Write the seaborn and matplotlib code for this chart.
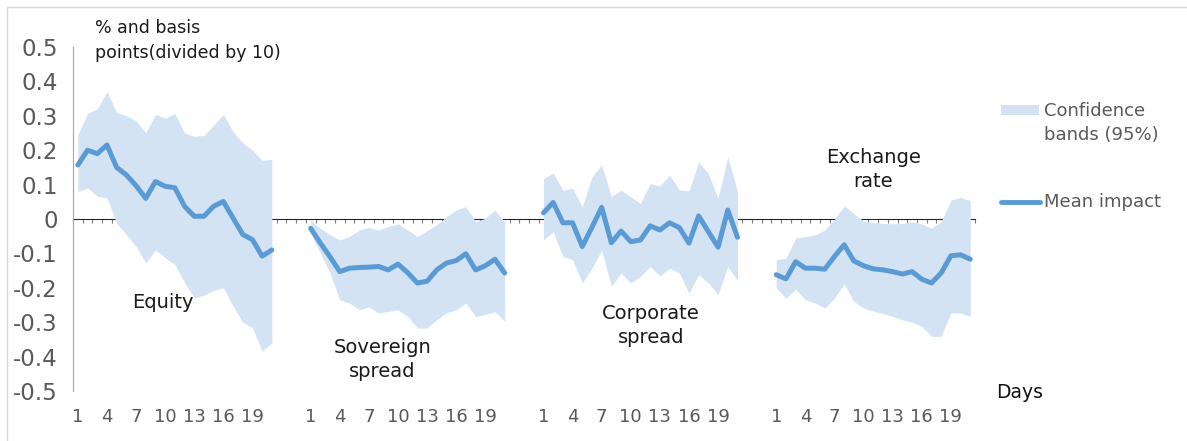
import numpy as np
import pandas as pd
import matplotlib
matplotlib.use('Agg')
import matplotlib.pyplot as plt
import seaborn as sns
from matplotlib.patches import Rectangle
from matplotlib.lines import Line2D

# ---- data ----
days = list(range(1, 22))
groups = ['Equity', 'Sovereign\nspread', 'Corporate\nspread', 'Exchange\nrate']

equity_mean = [0.157, 0.200, 0.190, 0.215, 0.150, 0.128, 0.097, 0.060, 0.109, 0.095, 0.091,
               0.037, 0.008, 0.008, 0.037, 0.051, 0.003, -0.045, -0.060, -0.108, -0.090]
equity_low = [0.080, 0.090, 0.066, 0.061, -0.012, -0.045, -0.080, -0.128, -0.090, -0.113, -0.132,
              -0.185, -0.229, -0.222, -0.208, -0.200, -0.253, -0.300, -0.316, -0.384, -0.360]
equity_high = [0.245, 0.307, 0.320, 0.370, 0.310, 0.300, 0.286, 0.250, 0.304, 0.293, 0.307,
               0.250, 0.240, 0.243, 0.273, 0.304, 0.254, 0.222, 0.200, 0.170, 0.174]

sov_mean = [-0.027, -0.070, -0.110, -0.153, -0.143, -0.141, -0.140, -0.138, -0.148, -0.131, -0.156,
            -0.186, -0.181, -0.148, -0.128, -0.121, -0.101, -0.148, -0.136, -0.117, -0.157]
sov_low = [-0.042, -0.100, -0.157, -0.235, -0.244, -0.264, -0.256, -0.273, -0.269, -0.264, -0.283,
           -0.317, -0.317, -0.293, -0.273, -0.264, -0.244, -0.283, -0.278, -0.269, -0.298]
sov_high = [-0.003, -0.027, -0.046, -0.061, -0.051, -0.032, -0.025, -0.032, -0.022, -0.014, -0.032,
            -0.051, -0.034, -0.017, 0.007, 0.026, 0.036, -0.008, 0.002, 0.026, -0.008]

corp_mean = [0.018, 0.048, -0.011, -0.011, -0.080, -0.024, 0.034, -0.069, -0.035, -0.066, -0.061,
             -0.020, -0.032, -0.011, -0.025, -0.070, 0.009, -0.037, -0.082, 0.026, -0.053]
corp_low = [-0.061, -0.037, -0.109, -0.119, -0.186, -0.143, -0.090, -0.196, -0.157, -0.186, -0.167,
            -0.138, -0.165, -0.143, -0.157, -0.215, -0.162, -0.186, -0.220, -0.138, -0.179]
corp_high = [0.118, 0.134, 0.084, 0.089, 0.036, 0.123, 0.157, 0.065, 0.084, 0.065, 0.045,
             0.103, 0.096, 0.128, 0.084, 0.082, 0.166, 0.132, 0.060, 0.181, 0.079]

fx_mean = [-0.162, -0.174, -0.124, -0.143, -0.143, -0.146, -0.109, -0.075, -0.122, -0.136, -0.145,
           -0.148, -0.153, -0.160, -0.153, -0.175, -0.186, -0.157, -0.107, -0.104, -0.117]
fx_low = [-0.200, -0.230, -0.204, -0.235, -0.244, -0.259, -0.230, -0.188, -0.240, -0.259, -0.268,
          -0.275, -0.283, -0.293, -0.300, -0.312, -0.341, -0.341, -0.273, -0.273, -0.283]
fx_high = [-0.119, -0.114, -0.056, -0.051, -0.046, -0.032, -0.001, 0.038, 0.016, -0.006, -0.010,
           -0.013, -0.014, -0.013, -0.008, -0.014, -0.027, -0.008, 0.055, 0.063, 0.053]

tick_days = [1, 4, 7, 10, 13, 16, 19]
y_ticks = [0.5, 0.4, 0.3, 0.2, 0.1, 0.0, -0.1, -0.2, -0.3, -0.4, -0.5]

means = [equity_mean, sov_mean, corp_mean, fx_mean]
lows = [equity_low, sov_low, corp_low, fx_low]
highs = [equity_high, sov_high, corp_high, fx_high]

# one long table, groups laid side by side on a shared category axis
slots = 24
rows = []
for g, name in enumerate(groups):
    for i, d in enumerate(days):
        rows.append({'group': name, 'x': g * slots + d, 'day': d,
                     'mean': means[g][i], 'low': lows[g][i], 'high': highs[g][i]})
df = pd.DataFrame(rows)

LINE = '#5b9bd5'
BAND = '#d4e3f3'
GREY = '#595959'

sns.set_style('white')
plt.rcParams['font.family'] = ['DejaVu Sans']

fig = plt.figure(figsize=(11.87, 4.41), dpi=100)
ax = fig.add_axes([0.0615, 0.1134, 0.760, 0.780])

for name, sub in df.groupby('group', sort=False):
    ax.fill_between(sub['x'], sub['low'], sub['high'], color=BAND, lw=0, zorder=1)

sns.lineplot(data=df, x='x', y='mean', units='group', estimator=None,
             color=LINE, lw=3.6, ax=ax, zorder=3, legend=False)

ax.set_xlim(0.5, len(groups) * slots - 2.5)
ax.set_ylim(-0.5, 0.5)

# x tick labels under every group
xt, xl = [], []
for g in range(len(groups)):
    for d in tick_days:
        xt.append(g * slots + d)
        xl.append(str(d))
ax.set_xticks(xt)
ax.set_xticklabels(xl, fontsize=13, color=GREY)
ax.tick_params(axis='x', length=0, pad=12)

ax.set_yticks(y_ticks)
ax.set_yticklabels(['0' if v == 0 else f'{v:.1f}' for v in y_ticks], fontsize=16.5, color=GREY)
ax.tick_params(axis='y', direction='in', length=5.5, width=1, color='#a6a6a6', pad=11)

for s in ['top', 'right', 'bottom']:
    ax.spines[s].set_visible(False)
ax.spines['left'].set_color('#a6a6a6')
ax.set_xlabel('')
ax.set_ylabel('')

# zero line with category tick marks
zero = ax.secondary_xaxis(0.5)
bounds = np.arange(0.5, len(groups) * slots - 2.0, 1.0)
zero.set_xticks(bounds)
zero.set_xticklabels([])
zero.tick_params(direction='in', length=3, width=0.8, color='#7f7f7f')
zero.spines['bottom'].set_color('#7f7f7f')
zero.spines['bottom'].set_linewidth(1)

# group labels
label_pos = [(9.8, -0.244), (32.4, -0.409), (60.1, -0.31), (83.0, 0.144)]
for name, (lx, ly) in zip(groups, label_pos):
    ax.text(lx, ly, name, ha='center', va='center', fontsize=14, color='#1a1a1a',
            linespacing=1.3, zorder=4)

W, H = 1187, 441
def fx(px):
    return px / W
def fy(py):
    return 1 - py / H

fig.text(fx(95), fy(28), '% and basis', fontsize=12.5, color='#1a1a1a', ha='left', va='center')
fig.text(fx(95), fy(53), 'points(divided by 10)', fontsize=12.5, color='#1a1a1a', ha='left', va='center')

# legend drawn by hand to follow the reference layout
fig.patches.append(Rectangle((fx(1001), fy(115)), fx(38), 10 / H, transform=fig.transFigure,
                             facecolor=BAND, edgecolor='none'))
fig.text(fx(1044), fy(111), 'Confidence', fontsize=13, color=GREY, ha='left', va='center')
fig.text(fx(1044), fy(135), 'bands (95%)', fontsize=13, color=GREY, ha='left', va='center')
fig.lines.append(Line2D([fx(1001), fx(1040)], [fy(202), fy(202)], transform=fig.transFigure,
                        color=LINE, lw=3.5, solid_capstyle='round'))
fig.text(fx(1044), fy(202), 'Mean impact', fontsize=13, color=GREY, ha='left', va='center')

fig.text(fx(996), fy(392), 'Days', fontsize=13.5, color='#111111', ha='left', va='center')

# thin frame around the chart area
fig.patches.append(Rectangle((fx(6.5), -0.1), 1.2, fy(7) + 0.1, transform=fig.transFigure,
                             facecolor='none', edgecolor='#d9d9d9', lw=1))

fig.savefig('out.png', dpi=100)
